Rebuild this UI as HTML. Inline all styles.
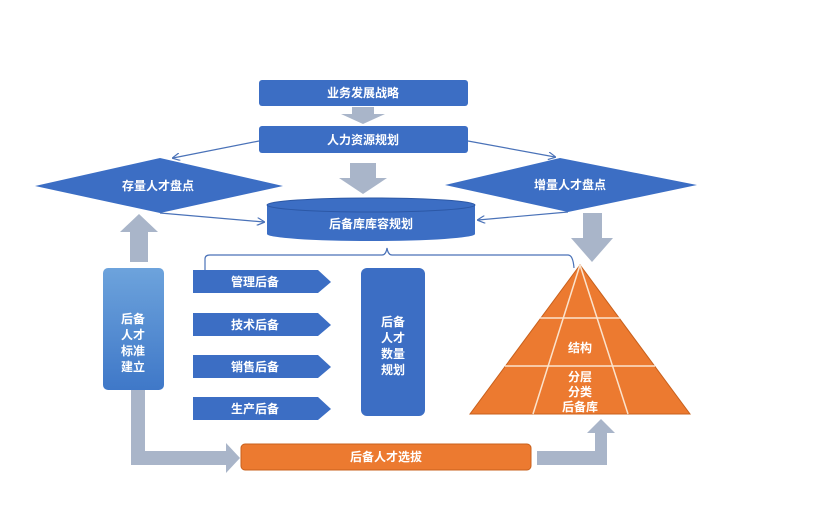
<!DOCTYPE html>
<html><head><meta charset="utf-8"><style>
html,body{margin:0;padding:0;background:#fff;}
svg text{font-family:"Liberation Sans","Noto Sans CJK SC",sans-serif;font-weight:bold;fill:#fff;font-size:12px;text-anchor:middle;dominant-baseline:central;}
</style></head><body>
<svg width="831" height="519" viewBox="0 0 831 519" xmlns="http://www.w3.org/2000/svg">
<defs>
<linearGradient id="lg" x1="0" y1="0" x2="0" y2="1"><stop offset="0" stop-color="#6da3dc"/><stop offset="1" stop-color="#3f78c8"/></linearGradient>
<marker id="ah" markerWidth="8" markerHeight="8" refX="7" refY="4" orient="auto" markerUnits="userSpaceOnUse"><path d="M0,0 L8,4 L0,8" fill="none" stroke="#4a72b8" stroke-width="1.2"/></marker>
</defs>
<g fill="#a9b5c9">
<polygon points="352,107 374,107 374,114 385,114 363,124 341,114 352,114"/>
<polygon points="350,163 376,163 376,178 387,178 363,194 339,178 350,178"/>
<polygon points="130,262 148,262 148,232 158,232 139,214 120,232 130,232"/>
<polygon points="583,213 602,213 602,238 613,238 592,262 571,238 583,238"/>
<polygon points="131,390 145,390 145,451 226,451 226,443 240,458 226,473 226,465 131,465"/>
<polygon points="537,451 595,451 595,433 587,433 601,419 615,433 607,433 607,465 537,465"/>
</g>
<rect x="259" y="80" width="209" height="26" rx="3" fill="#3c6ec4"/>
<text x="363" y="93">业务发展战略</text>
<rect x="259" y="126" width="209" height="27" rx="3" fill="#3c6ec4"/>
<text x="363" y="140">人力资源规划</text>
<polygon points="35,186 160,158 283,186 160,213" fill="#3c6ec4"/>
<text x="158" y="186">存量人才盘点</text>
<polygon points="445,185 560,158 697,185 568,212" fill="#3c6ec4"/>
<text x="570" y="185">增量人才盘点</text>
<path d="M267,205 A104,7 0 0 1 475,205 L475,234 A104,7 0 0 1 267,234 Z" fill="#3c6ec4"/>
<ellipse cx="371" cy="205" rx="104" ry="7" fill="#3c6ec4" stroke="#2c58a6" stroke-width="1"/>
<text x="371" y="224">后备库库容规划</text>
<g stroke="#4a72b8" stroke-width="1.2" fill="none">
<line x1="259" y1="141" x2="173" y2="158" marker-end="url(#ah)"/>
<line x1="468" y1="141" x2="555" y2="157" marker-end="url(#ah)"/>
<line x1="160" y1="213" x2="264" y2="222" marker-end="url(#ah)"/>
<line x1="568" y1="212" x2="478" y2="220" marker-end="url(#ah)"/>
<path d="M205,270 V259 Q205,255 210,255 H382 Q386,255 387,248 Q388,255 392,255 H568 Q573,255 574,268"/>
</g>
<rect x="103" y="268" width="61" height="122" rx="5" fill="url(#lg)"/>
<text x="133" y="319">后备</text><text x="133" y="335">人才</text><text x="133" y="351">标准</text><text x="133" y="367">建立</text>
<g fill="#3c6ec4">
<polygon points="193,270 318,270 331,282 318,293 193,293"/>
<polygon points="193,313 318,313 331,325 318,336 193,336"/>
<polygon points="193,355 318,355 331,367 318,378 193,378"/>
<polygon points="193,397 318,397 331,409 318,420 193,420"/>
</g>
<text x="255" y="282">管理后备</text><text x="255" y="325">技术后备</text><text x="255" y="367">销售后备</text><text x="255" y="409">生产后备</text>
<rect x="361" y="268" width="64" height="148" rx="6" fill="#3c6ec4"/>
<text x="393" y="322">后备</text><text x="393" y="338">人才</text><text x="393" y="354">数量</text><text x="393" y="370">规划</text>
<polygon points="580,265 470,414 690,414" fill="#ec7a30" stroke="#c8601c" stroke-width="1"/>
<g stroke="#fbe3cc" stroke-width="1.5">
<line x1="580" y1="265" x2="533" y2="414"/><line x1="580" y1="265" x2="628" y2="414"/>
<line x1="540" y1="318" x2="620" y2="318"/><line x1="505" y1="366" x2="655" y2="366"/>
</g>
<text x="580" y="348">结构</text>
<text x="580" y="377">分层</text><text x="580" y="392">分类</text><text x="580" y="407">后备库</text>
<rect x="241" y="444" width="290" height="26" rx="4" fill="#ec7a30" stroke="#c8601c"/>
<text x="386" y="457">后备人才选拔</text>
</svg>
</body></html>
